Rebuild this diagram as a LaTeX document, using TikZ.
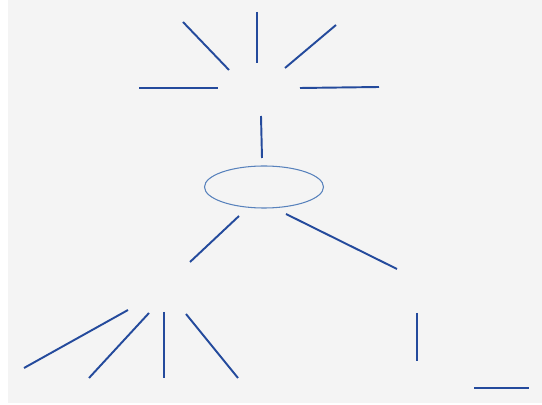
\documentclass[tikz,border=0pt]{standalone}
\usetikzlibrary{shapes.geometric}
\definecolor{stroke}{RGB}{36,74,156}
\definecolor{rim}{RGB}{88,130,188}
\definecolor{paper}{RGB}{244,244,244}

\begin{document}
\begin{tikzpicture}[x=0.02cm,y=-0.02cm,
  seg/.style={draw=stroke,line width=1.1pt},
  hub/.style={draw=rim,line width=0.6pt,ellipse,minimum width=119*0.02cm,minimum height=42*0.02cm,inner sep=0pt}]
\useasboundingbox (0,0) rectangle (542,405);
\fill[paper] (8,0) rectangle (542,403);
% rays on top
\coordinate (t1a) at (183,22);  \coordinate (t1b) at (229,70);
\coordinate (t2a) at (257,12);  \coordinate (t2b) at (257,63);
\coordinate (t3a) at (336,25);  \coordinate (t3b) at (285,68);
\coordinate (t4a) at (139,88);  \coordinate (t4b) at (218,88);
\coordinate (t5a) at (300,88);  \coordinate (t5b) at (379,87);
\draw[seg] (t1a) -- (t1b);
\draw[seg] (t2a) -- (t2b);
\draw[seg] (t3a) -- (t3b);
\draw[seg] (t4a) -- (t4b);
\draw[seg] (t5a) -- (t5b);
% stem and ellipse
\node[hub] (E) at (264,187) {};
\coordinate (s1) at (261,116);  \coordinate (s2) at (262,158);
\draw[seg] (s1) -- (s2);
% branches below the ellipse
\coordinate (l1) at (239,216);  \coordinate (l2) at (190,262);
\coordinate (r1) at (286,214);  \coordinate (r2) at (397,269);
\draw[seg] (l1) -- (l2);
\draw[seg] (r1) -- (r2);
% fan at bottom left
\coordinate (f1a) at (128,310);  \coordinate (f1b) at (24,368);
\coordinate (f2a) at (149,313);  \coordinate (f2b) at (89,378);
\coordinate (f3a) at (164,312);  \coordinate (f3b) at (164,378);
\coordinate (f4a) at (186,314);  \coordinate (f4b) at (238,378);
\draw[seg] (f1a) -- (f1b);
\draw[seg] (f2a) -- (f2b);
\draw[seg] (f3a) -- (f3b);
\draw[seg] (f4a) -- (f4b);
% bottom right
\coordinate (v1) at (417,313);  \coordinate (v2) at (417,361);
\coordinate (h1) at (474,388);  \coordinate (h2) at (529,388);
\draw[seg] (v1) -- (v2);
\draw[seg] (h1) -- (h2);
\end{tikzpicture}
\end{document}
